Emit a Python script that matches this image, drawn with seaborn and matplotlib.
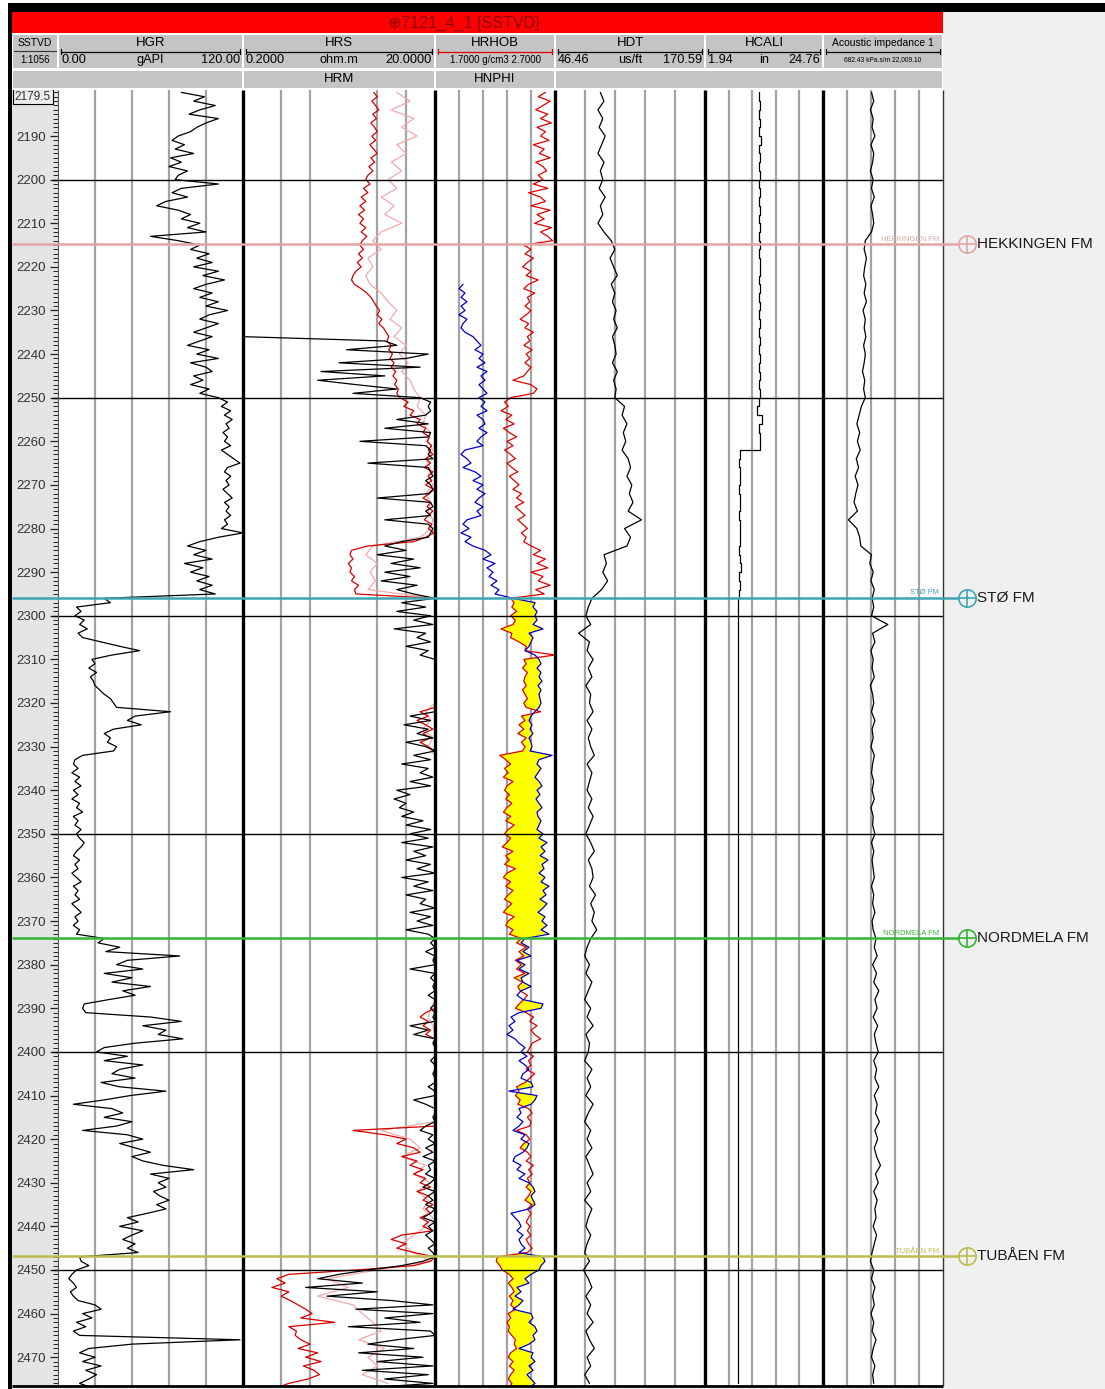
import numpy as np
import pandas as pd
import matplotlib
matplotlib.use("Agg")
import matplotlib.pyplot as plt
import seaborn as sns
from matplotlib.patches import Rectangle
from matplotlib.ticker import FixedLocator

sns.set_theme(style="white")
plt.rcParams["font.family"] = ["Liberation Sans", "DejaVu Sans"]

# ------------------------------------------------------------------ data
DEPTH_1M = np.arange(2180, 2478)          # 1 m samples (SSTVD)
DEPTH_2M = np.arange(2180, 2478, 2)       # 2 m samples
HRS_DEPTH = np.arange(2236, 2478)
NPHI_DEPTH = np.arange(2224, 2478)

HGR = [
    80, 95, 88, 102, 92, 85, 104, 96, 90, 86,          # 2180
    78, 74, 82, 76, 88, 73, 80, 72, 84, 78,            # 2190
    76, 104, 80, 74, 84, 70, 64, 78, 86, 80,           # 2200
    92, 84, 96, 60, 78, 92, 86, 98, 90, 100,           # 2210
    88, 104, 94, 108, 96, 88, 100, 92, 104, 96,        # 2220
    110, 98, 92, 104, 96, 88, 100, 92, 84, 98,         # 2230
    90, 104, 86, 96, 100, 88, 94, 86, 98, 92,          # 2240
    104, 110, 106, 112, 108, 113, 109, 111, 107, 110,  # 2250
    108, 112, 106, 110, 114, 118, 110, 108, 112, 109,  # 2260
    111, 107, 110, 113, 108, 111, 109, 112, 108, 110,  # 2270
    106, 120, 104, 92, 84, 96, 88, 100, 82, 94,        # 2280
    86, 98, 90, 100, 92, 102, 30, 34, 12, 15,          # 2290
    11, 17, 14, 19, 13, 16, 28, 40, 53, 35,            # 2300
    22, 24, 20, 25, 21, 23, 24, 27, 30, 34,            # 2310
    36, 38, 73, 50, 45, 54, 36, 30, 34, 32,            # 2320
    38, 36, 16, 11, 10, 13, 9, 14, 11, 15,             # 2330
    10, 13, 9, 14, 12, 16, 10, 13, 11, 15,             # 2340
    12, 14, 17, 15, 12, 10, 14, 11, 13, 9,             # 2350
    12, 15, 10, 13, 11, 14, 9, 12, 15, 11,             # 2360
    13, 10, 14, 12, 30, 26, 40, 31, 79, 45,            # 2370
    38, 55, 30, 48, 35, 60, 42, 50, 33, 17,            # 2380
    16, 18, 60, 80, 55, 70, 65, 81, 50, 30,            # 2390
    25, 45, 30, 55, 40, 35, 50, 28, 40, 70,            # 2400
    47, 30, 10, 35, 42, 30, 48, 38, 16, 45,            # 2410
    55, 40, 50, 60, 48, 55, 68, 88, 60, 72,            # 2420
    65, 70, 62, 66, 72, 64, 70, 58, 45, 52,            # 2430
    40, 55, 48, 42, 50, 45, 52, 14, 15, 20,            # 2440
    12, 9, 7, 10, 12, 8, 10, 13, 24, 28,               # 2450
    16, 22, 12, 18, 10, 14, 118, 48, 20, 14,           # 2460
    24, 16, 28, 18, 25, 20, 14, 22,                    # 2470
]

HRM = [
    4.6, 5.0, 4.4, 4.8, 5.2, 4.5, 4.9, 4.3, 4.7, 5.0,       # 2180
    4.4, 4.8, 4.2, 4.6, 5.0, 4.3, 4.7, 4.1, 4.5, 4.0,       # 2190
    3.8, 4.2, 3.6, 4.0, 3.4, 3.8, 3.3, 3.7, 3.2, 3.6,       # 2200
    3.3, 3.8, 3.4, 3.9, 3.5, 3.3, 3.6, 3.2, 3.5, 3.1,       # 2210
    3.4, 3.0, 2.8, 2.7, 2.9, 3.4, 3.9, 4.3, 4.6, 4.9,       # 2220
    5.3, 5.0, 5.6, 5.2, 5.8, 6.2, 6.6, 6.3, 7.0, 6.6,       # 2230
    7.2, 6.8, 7.5, 7.0, 7.8, 7.3, 8.0, 7.6, 8.3, 8.0,       # 2240
    8.6, 10.5, 9.5, 12.0, 11.0, 14.0, 13.0, 16.0, 15.0, 17.5,  # 2250
    16.5, 18.5, 17.0, 19.0, 16.0, 18.0, 15.5, 19.0, 17.0, 18.5,  # 2260
    16.0, 19.5, 17.5, 15.0, 18.0, 16.5, 19.0, 17.0, 15.5, 18.5,  # 2270
    17.0, 19.5, 16.0, 12.0, 4.0, 2.7, 2.6, 2.8, 2.5, 2.7,   # 2280
    2.6, 2.9, 2.7, 3.2, 2.9, 3.0, 20, 20, 20, 20,           # 2290
    20, 20, 20, 20, 20, 20, 20, 20, 20, 20,                 # 2300
    20, 20, 20, 20, 20, 20, 20, 20, 20, 20,                 # 2310
    20, 20, 14, 17, 13, 16, 19, 15, 18, 14,                 # 2320
    17, 20, 20, 20, 20, 20, 20, 20, 20, 20,                 # 2330
    20, 20, 20, 20, 20, 20, 20, 20, 20, 20,                 # 2340
    20, 20, 20, 20, 20, 20, 20, 20, 20, 20,                 # 2350
    20, 20, 20, 20, 20, 20, 20, 20, 20, 20,                 # 2360
    20, 20, 20, 20, 20, 20, 20, 20, 20, 20,                 # 2370
    20, 20, 20, 20, 20, 20, 20, 20, 20, 20,                 # 2380
    20, 16, 14, 17, 15, 18, 16, 20, 20, 20,                 # 2390
    20, 20, 20, 20, 20, 20, 20, 20, 20, 20,                 # 2400
    20, 20, 20, 20, 20, 20, 20, 20, 2.8, 6.0,               # 2410
    10, 8, 12, 14, 9, 13, 11, 15, 12, 16,                   # 2420
    14, 18, 13, 17, 15, 19, 16, 18, 14, 17,                 # 2430
    15, 19, 9, 7, 10, 8, 12, 20, 18, 12,                    # 2440
    3.0, 0.6, 0.45, 0.55, 0.4, 0.6, 0.5, 0.62, 0.75, 0.9,   # 2450
    1.05, 0.8, 1.8, 0.6, 0.72, 0.7, 0.8, 1.0, 0.75, 1.2,    # 2460
    0.9, 1.3, 0.85, 1.1, 1.25, 0.95, 0.6, 0.45,             # 2470
]

HRD_PINK = [
    8, 11, 7, 12, 9, 13, 8, 10, 7, 9,                       # 2180-2198
    6.5, 8, 5.5, 7.5, 6, 9, 5.5, 4.5, 5.5, 4.0,             # 2200-2218
    4.5, 3.8, 4.2, 5.5, 6.5, 8.0, 6.8, 9.0, 7.5, 10.0,      # 2220-2238
    8.5, 10.5, 9, 11, 12, 14, 13, 16, 15, 18,               # 2240-2258
    17, 19, 16, 18, 17, 19, 16, 18, 17, 19,                 # 2260-2278
    18, 14, 4.5, 3.8, 5.0, 4.2, 4.8, 4.0, 20, 20,           # 2280-2298
    20, 20, 20, 20, 20, 20, 20, 20, 20, 20,                 # 2300-2318
    20, 16, 18, 15, 19, 17, 20, 20, 20, 20,                 # 2320-2338
    20, 20, 20, 20, 20, 20, 20, 20, 20, 20,                 # 2340-2358
    20, 20, 20, 20, 20, 20, 20, 20, 20, 20,                 # 2360-2378
    20, 20, 20, 20, 20, 18, 17, 19, 20, 20,                 # 2380-2398
    20, 20, 20, 20, 20, 20, 20, 20, 20, 5.5,                # 2400-2418
    11, 14, 9, 16, 12, 18, 13, 17, 15, 19,                  # 2420-2438
    16, 12, 9, 12, 18, 5, 1.5, 2.5, 1.2, 2.8,               # 2440-2458
    3.5, 4.5, 5.5, 3.2, 6.0, 4.0, 5.0, 3.5, 6.5,            # 2460-2476
]

HRS = [
    0.2, 6, 8, 2.4,                                        # 2236
    17, 10, 2.0, 14, 1.3, 6, 1.2, 3.0, 8, 2.8,             # 2240
    14, 18, 17, 18, 16, 8, 17, 6, 18, 17,                  # 2250
    3.3, 16, 18, 17, 19, 4.0, 17, 18, 19, 16,              # 2260
    18, 19, 17, 5.0, 18, 19, 16, 18, 6.0, 17,              # 2270
    19, 18, 17, 9, 6, 10, 5, 12, 7, 14,                    # 2280
    6, 11, 5.5, 13, 8, 12, 20, 9, 16, 8,                   # 2290
    18, 12, 19, 7.5, 16, 13, 18, 10, 17, 14,               # 2300
    20, 20, 20, 20, 20, 20, 20, 20, 20, 20,                # 2310
    20, 20, 20, 11, 18, 9.5, 17, 13, 19, 10,               # 2320
    16, 20, 12, 18, 9, 17, 14, 19, 11, 18,                 # 2330
    8, 11, 7.5, 10, 8.5, 12, 9, 15, 10, 18,                # 2340
    11, 17, 9, 19, 12, 16, 10, 18, 13, 20,                 # 2350
    9, 17, 12, 19, 10, 16, 14, 20, 11, 18,                 # 2360
    13, 19, 10, 17, 20, 18, 20, 16, 20, 19,                # 2370
    20, 11, 20, 18, 20, 19, 20, 17, 20, 20,                # 2380
    18, 20, 19, 20, 11, 17, 12, 20, 19, 20,                # 2390
    20, 20, 18, 20, 20, 19, 20, 20, 17, 20,                # 2400
    20, 12, 16, 20, 20, 19, 20, 16, 14, 19,                # 2410
    17, 20, 16, 19, 15, 20, 17, 18, 16, 20,                # 2420
    18, 15, 20, 17, 19, 16, 20, 18, 15, 20,                # 2430
    17, 19, 16, 18, 20, 17, 19, 20, 15, 9,                 # 2440
    4, 2.0, 1.2, 3.5, 0.9, 5, 1.5, 7, 19, 3,               # 2450
    19, 6, 14, 2.5, 18, 20, 8, 4, 12, 3.2,                 # 2460
    15, 5, 19, 3.5, 17, 6, 19, 4,                          # 2470
]

HRHOB = [
    2.62, 2.56, 2.66, 2.60, 2.54, 2.64, 2.58, 2.67, 2.55, 2.62,   # 2180
    2.58, 2.65, 2.52, 2.61, 2.57, 2.66, 2.54, 2.60, 2.63, 2.56,   # 2190
    2.60, 2.52, 2.64, 2.48, 2.58, 2.62, 2.50, 2.66, 2.55, 2.61,   # 2200
    2.53, 2.67, 2.58, 2.64, 2.68, 2.44, 2.50, 2.45, 2.52, 2.47,   # 2210
    2.43, 2.50, 2.46, 2.56, 2.48, 2.44, 2.53, 2.47, 2.49, 2.45,   # 2220
    2.50, 2.46, 2.41, 2.48, 2.45, 2.52, 2.47, 2.49, 2.44, 2.51,   # 2230
    2.46, 2.49, 2.45, 2.50, 2.47, 2.44, 2.35, 2.50, 2.55, 2.52,   # 2240
    2.33, 2.28, 2.31, 2.25, 2.34, 2.29, 2.36, 2.27, 2.32, 2.38,   # 2250
    2.30, 2.35, 2.28, 2.33, 2.37, 2.30, 2.34, 2.39, 2.32, 2.36,   # 2260
    2.40, 2.35, 2.42, 2.38, 2.44, 2.37, 2.41, 2.45, 2.39, 2.43,   # 2270
    2.47, 2.42, 2.46, 2.44, 2.50, 2.58, 2.52, 2.62, 2.55, 2.64,   # 2280
    2.50, 2.60, 2.56, 2.66, 2.54, 2.61, 2.33, 2.36, 2.34, 2.38,   # 2290
    2.33, 2.37, 2.35, 2.25, 2.34, 2.33, 2.40, 2.46, 2.45, 2.70,   # 2300
    2.44, 2.46, 2.43, 2.47, 2.45, 2.44, 2.46, 2.43, 2.45, 2.47,   # 2310
    2.44, 2.46, 2.58, 2.42, 2.45, 2.40, 2.44, 2.39, 2.46, 2.42,   # 2320
    2.45, 2.43, 2.24, 2.29, 2.33, 2.28, 2.31, 2.27, 2.35, 2.30,   # 2330
    2.28, 2.32, 2.29, 2.34, 2.30, 2.27, 2.33, 2.29, 2.36, 2.31,   # 2340
    2.28, 2.33, 2.30, 2.26, 2.35, 2.29, 2.32, 2.28, 2.37, 2.30,   # 2350
    2.27, 2.33, 2.29, 2.35, 2.31, 2.28, 2.34, 2.30, 2.27, 2.36,   # 2360
    2.31, 2.29, 2.35, 2.32, 2.42, 2.38, 2.46, 2.40, 2.44, 2.37,   # 2370
    2.42, 2.38, 2.45, 2.36, 2.43, 2.39, 2.41, 2.47, 2.44, 2.40,   # 2380
    2.37, 2.46, 2.52, 2.49, 2.55, 2.50, 2.53, 2.58, 2.51, 2.49,   # 2390
    2.47, 2.52, 2.48, 2.50, 2.46, 2.53, 2.49, 2.45, 2.38, 2.40,   # 2400
    2.37, 2.41, 2.39, 2.48, 2.51, 2.47, 2.50, 2.49, 2.38, 2.46,   # 2410
    2.49, 2.44, 2.41, 2.47, 2.50, 2.46, 2.52, 2.48, 2.51, 2.47,   # 2420
    2.49, 2.46, 2.50, 2.48, 2.45, 2.51, 2.47, 2.50, 2.48, 2.46,   # 2430
    2.49, 2.47, 2.50, 2.46, 2.48, 2.51, 2.47, 2.22, 2.21, 2.24,   # 2440
    2.26, 2.32, 2.35, 2.31, 2.34, 2.36, 2.32, 2.35, 2.33, 2.37,   # 2450
    2.31, 2.33, 2.30, 2.32, 2.31, 2.34, 2.37, 2.36, 2.38, 2.33,   # 2460
    2.31, 2.35, 2.32, 2.36, 2.33, 2.31, 2.34, 2.32,               # 2470
]

HNPHI = [
    0.31, 0.33, 0.30, 0.32, 0.29, 0.32,                                   # 2224
    0.30, 0.33, 0.29, 0.31, 0.32, 0.30, 0.26, 0.24, 0.22, 0.25,           # 2230
    0.21, 0.23, 0.20, 0.24, 0.19, 0.22, 0.20, 0.23, 0.21, 0.19,           # 2240
    0.23, 0.20, 0.22, 0.19, 0.24, 0.21, 0.20, 0.23, 0.19, 0.22,           # 2250
    0.24, 0.21, 0.30, 0.32, 0.29, 0.27, 0.31, 0.25, 0.22, 0.26,           # 2260
    0.21, 0.24, 0.20, 0.23, 0.25, 0.21, 0.24, 0.22, 0.29, 0.31,           # 2270
    0.28, 0.32, 0.27, 0.30, 0.26, 0.20, 0.17, 0.21, 0.15, 0.19,           # 2280
    0.16, 0.18, 0.14, 0.17, 0.13, 0.15, 0.06, -0.05, -0.04, -0.06,        # 2290
    -0.05, -0.06, -0.04, -0.09, -0.02, -0.04, -0.03, -0.02, 0.00, -0.05,  # 2300
    -0.07, -0.08, -0.06, -0.08, -0.07, -0.085, -0.065, -0.08, -0.07, -0.075,  # 2310
    -0.08, -0.07, -0.05, -0.03, -0.02, -0.035, -0.025, -0.04, -0.02, -0.03,   # 2320
    -0.035, -0.025, -0.135, -0.07, -0.06, -0.08, -0.065, -0.05, -0.07, -0.085,  # 2330
    -0.06, -0.075, -0.055, -0.07, -0.085, -0.06, -0.065, -0.08, -0.07, -0.06,  # 2340
    -0.09, -0.07, -0.11, -0.08, -0.10, -0.075, -0.115, -0.085, -0.095, -0.07,  # 2350
    -0.10, -0.08, -0.12, -0.09, -0.105, -0.075, -0.11, -0.09, -0.065, -0.10,   # 2360
    -0.085, -0.11, -0.08, -0.12, 0.00, 0.02, -0.02, 0.01, -0.03, 0.04,         # 2370
    0.00, 0.03, -0.02, 0.02, 0.01, -0.03, 0.02, 0.04, 0.01, -0.09,             # 2380
    -0.08, 0.03, 0.07, 0.05, 0.08, 0.06, 0.09, 0.05, 0.03, 0.00,               # 2390
    0.02, -0.01, 0.03, 0.00, -0.02, 0.01, 0.02, -0.03, -0.04, 0.08,            # 2400
    -0.06, -0.05, -0.03, 0.03, 0.02, 0.04, 0.01, 0.03, 0.06, 0.00,             # 2410
    0.02, -0.02, -0.01, 0.01, 0.05, 0.06, 0.02, 0.04, 0.00, 0.03,              # 2420
    -0.02, -0.04, -0.05, -0.03, -0.04, -0.05, -0.02, 0.07, 0.05, 0.03,         # 2430
    0.02, 0.04, 0.01, 0.03, 0.02, 0.00, 0.03, -0.09, -0.10, -0.08,             # 2440
    -0.07, -0.03, 0.00, -0.02, 0.04, 0.02, 0.05, 0.01, 0.03, 0.06,             # 2450
    -0.03, -0.04, -0.02, -0.05, -0.06, -0.04, -0.05, -0.02, 0.03, -0.04,       # 2460
    -0.03, -0.05, -0.02, -0.04, -0.01, -0.03, -0.05, -0.02,                    # 2470
]

HDT = [
    84, 87, 82, 86, 83, 88, 85, 82, 87, 84,          # 2180-2198
    86, 83, 88, 84, 86, 82, 87, 93, 96, 92,          # 2200-2218
    95, 98, 93, 96, 94, 97, 95, 98, 94, 96,          # 2220-2238
    97, 94, 98, 95, 97, 96, 104, 102, 106, 103,      # 2240-2258
    105, 102, 107, 109, 106, 110, 108, 111, 107, 118,  # 2260-2278
    104, 109, 106, 87, 89, 86, 90, 85, 77, 74,       # 2280-2298
    72, 76, 66, 75, 73, 78, 74, 77, 72, 76,          # 2300-2318
    75, 78, 73, 77, 74, 76, 79, 73, 77, 75,          # 2320-2338
    73, 77, 74, 78, 75, 72, 76, 79, 74, 77,          # 2340-2358
    78, 75, 80, 76, 79, 77, 81, 76, 73, 71,          # 2360-2378
    75, 72, 77, 74, 71, 76, 73, 78, 72, 75,          # 2380-2398
    74, 71, 77, 73, 76, 72, 78, 74, 71, 76,          # 2400-2418
    73, 77, 72, 75, 78, 73, 76, 71, 77, 74,          # 2420-2438
    72, 76, 73, 71, 75, 70, 74, 77, 72, 76,          # 2440-2458
    73, 78, 72, 75, 79, 73, 76, 71, 75,              # 2460-2476
]

HCALI = [
    12.4, 12.6, 12.3, 12.5, 12.4, 12.7, 12.3, 12.5, 12.4, 12.6,   # 2180-2198
    12.4, 12.6, 12.3, 12.5, 12.4, 12.6, 12.3, 12.5, 12.4, 12.6,   # 2200-2218
    12.5, 12.3, 12.6, 12.4, 12.5, 12.3, 12.6, 12.4, 12.5, 12.3,   # 2220-2238
    12.5, 12.4, 12.6, 12.3, 12.5, 12.4, 12.0, 12.9, 12.4, 12.5,   # 2240-2258
    12.6, 8.7, 8.6, 8.8, 8.7, 8.6, 8.8, 8.7, 8.6, 8.7,            # 2260-2278
    8.7, 8.8, 8.6, 8.7, 8.9, 8.5, 8.7, 8.6, 8.4, 8.35,            # 2280-2298
    8.35, 8.33, 8.35, 8.34, 8.36, 8.35, 8.33, 8.35, 8.34, 8.36,   # 2300-2318
    8.35, 8.34, 8.36, 8.35, 8.33, 8.35, 8.34, 8.36, 8.35, 8.34,   # 2320-2338
    8.35, 8.36, 8.34, 8.35, 8.33, 8.35, 8.36, 8.34, 8.35, 8.34,   # 2340-2358
    8.36, 8.35, 8.34, 8.35, 8.33, 8.36, 8.35, 8.34, 8.35, 8.36,   # 2360-2378
    8.34, 8.35, 8.33, 8.35, 8.36, 8.34, 8.35, 8.36, 8.34, 8.35,   # 2380-2398
    8.33, 8.35, 8.36, 8.34, 8.35, 8.34, 8.36, 8.35, 8.33, 8.35,   # 2400-2418
    8.34, 8.36, 8.35, 8.34, 8.35, 8.33, 8.36, 8.35, 8.34, 8.35,   # 2420-2438
    8.36, 8.34, 8.35, 8.33, 8.35, 8.34, 8.25, 8.24, 8.26, 8.25,   # 2440-2458
    8.24, 8.26, 8.25, 8.24, 8.26, 8.25, 8.24, 8.25, 8.26,         # 2460-2476
]

ACOUSTIC_IMPEDANCE = [
    9300, 9700, 9100, 9600, 9400, 9900, 9200, 9700, 9500, 9100,      # 2180-2198
    9600, 9300, 9800, 9200, 9500, 9700, 9300, 8200, 8000, 8400,      # 2200-2218
    8100, 7900, 8300, 8000, 8400, 7800, 8200, 8000, 8300, 7900,      # 2220-2238
    8200, 8000, 7700, 8100, 7900, 8200, 7500, 7100, 6700, 7200,      # 2240-2258
    6800, 7300, 6600, 7000, 6400, 6900, 6500, 6200, 6800, 5200,      # 2260-2278
    6700, 7200, 7400, 9300, 9000, 9600, 9200, 9800, 9400, 9700,      # 2280-2298
    9300, 12200, 9500, 9900, 9200, 9600, 9400, 9800, 9100, 9500,     # 2300-2318
    9700, 9300, 9900, 9400, 9600, 9200, 9800, 9500, 9300, 9700,      # 2320-2338
    9400, 9800, 9200, 9600, 9500, 9900, 9300, 9700, 9400, 9600,      # 2340-2358
    9800, 9300, 9700, 9500, 9900, 9400, 9600, 10100, 9800, 10300,    # 2360-2378
    9500, 10200, 9700, 10600, 9900, 10300, 9600, 10400, 9800, 10100, # 2380-2398
    10500, 9700, 10200, 9900, 10600, 9800, 10300, 10000, 10700, 9900,  # 2400-2418
    10400, 9800, 10200, 10900, 10000, 10500, 9700, 10300, 9900, 10100,  # 2420-2438
    9600, 10200, 9800, 9400, 9100, 9700, 9300, 9900, 9500, 9800,     # 2440-2458
    9200, 9700, 9400, 10100, 9600, 9300, 9900, 9500, 9700,           # 2460-2476
]

FORMATION_NAMES = ["HEKKINGEN FM", "STØ FM", "NORDMELA FM", "TUBÅEN FM"]
FORMATION_DEPTHS = [2214.8, 2295.9, 2373.9, 2446.9]
FORMATION_COLORS = ["#e2a5a5", "#3ea5b5", "#35b535", "#bcbc50"]

DEPTH_MAJOR_LINES = [2200, 2250, 2300, 2350, 2400, 2450]
DEPTH_LABELS = [2190, 2200, 2210, 2220, 2230, 2240, 2250, 2260, 2270, 2280,
                2290, 2300, 2310, 2320, 2330, 2340, 2350, 2360, 2370, 2380,
                2390, 2400, 2410, 2420, 2430, 2440, 2450, 2460, 2470]

TITLE = "\u22957121_4_1 [SSTVD]"
TRACK_NAMES = ["SSTVD", "HGR", "HRS", "HRHOB", "HDT", "HCALI", "Acoustic impedance 1"]
SCALE_LEFT = ["", "0.00", "0.2000", "", "46.46", "1.94", ""]
SCALE_UNIT = ["1:1056", "gAPI", "ohm.m", "1.7000 g/cm3 2.7000", "us/ft", "in", "682.43 kPa.s/m 22,009.10"]
SCALE_RIGHT = ["", "120.00", "20.0000", "", "170.59", "24.76", ""]
SECOND_CURVES = ["", "HRM", "HNPHI", ""]

# ------------------------------------------------------------------ layout
W, H = 1105, 1389
TOP, BOTTOM = 2179.45, 2476.6
Y0, Y1 = 90, 1386
EDGES = [12, 58, 243, 435, 555, 705, 823, 943]

fig = plt.figure(figsize=(W / 100, H / 100), dpi=100, facecolor="#f0f0f0")


def rect(x0, y0, x1, y1):
    return [x0 / W, 1 - y1 / H, (x1 - x0) / W, (y1 - y0) / H]


def hide_ticks(ax):
    ax.tick_params(which="both", left=False, bottom=False, top=False, right=False,
                   labelleft=False, labelbottom=False, labeltop=False, labelright=False)


def make_track(x0, x1, xlim, grid, log=False, face="white"):
    ax = fig.add_axes(rect(x0, Y0, x1, Y1))
    ax.set_facecolor(face)
    if log:
        ax.set_xscale("log")
    ax.set_xlim(*xlim)
    ax.set_ylim(BOTTOM, TOP)
    for g in grid:
        ax.axvline(g, color="#a3a3a3", lw=1.6, zorder=0.5)
    for s in ax.spines.values():
        s.set_visible(False)
    hide_ticks(ax)
    ax.grid(False)
    return ax


def draw_curve(ax, values, depths, color, lw=0.9, z=3, xlim=None, steps=False):
    sns.lineplot(x=np.asarray(values, float), y=np.asarray(depths, float), ax=ax,
                 orient="y", sort=True, estimator=None, color=color, linewidth=lw,
                 drawstyle="steps-pre" if steps else "default", zorder=z)
    ax.set_xlabel("")
    ax.set_ylabel("")
    if xlim is not None:
        ax.set_xlim(*xlim)
    ax.set_ylim(BOTTOM, TOP)


# depth track background
dax = make_track(12, 58, (0, 1), [], face="#e4e4e4")
dax.text(0.06, TOP + 0.15, "2179.5", transform=dax.get_yaxis_transform(), ha="left", va="top",
         fontsize=8.5, color="#333333",
         bbox=dict(boxstyle="square,pad=0.15", fc="#ececec", ec="black", lw=0.8))

# GR
gr_lim = (0, 120)
gr = make_track(58, 243, gr_lim, [24, 48, 72, 96])
draw_curve(gr, HGR, DEPTH_1M, "black", xlim=gr_lim)
gr.yaxis.set_major_locator(FixedLocator(DEPTH_LABELS))
gr.yaxis.set_minor_locator(FixedLocator(list(range(2180, 2477))))
gr.tick_params(axis="y", which="major", left=True, labelleft=True, direction="out",
               length=6, width=0.9, color="#222222", labelcolor="#333333", labelsize=9.5, pad=3)
gr.tick_params(axis="y", which="minor", left=True, direction="out", length=3.5, width=0.7,
               color="#222222")

# Resistivity
res_lim = (0.2, 20)
res = make_track(243, 435, res_lim, [0.5, 1, 5, 10], log=True)
draw_curve(res, HRD_PINK, DEPTH_2M, "#f2aaaa", xlim=res_lim)
draw_curve(res, HRM, DEPTH_1M, "#d40000", xlim=res_lim)
draw_curve(res, HRS, HRS_DEPTH, "black", xlim=res_lim)

# Density / neutron
den_lim = (1.7, 2.7)
den = make_track(435, 555, den_lim, [1.9, 2.1, 2.3, 2.5])
rho_sub = np.asarray(HRHOB, float)[len(DEPTH_1M) - len(NPHI_DEPTH):]
rho_eq = den_lim[0] + (0.45 - np.asarray(HNPHI, float)) / 0.6 * (den_lim[1] - den_lim[0])
den.fill_betweenx(NPHI_DEPTH, rho_sub, rho_eq, where=rho_eq > rho_sub, interpolate=True,
                  color="#ffff00", lw=0, zorder=1)
draw_curve(den, HRHOB, DEPTH_1M, "#e00000", xlim=den_lim)
nax = den.twiny()
nax.patch.set_visible(False)
for s in nax.spines.values():
    s.set_visible(False)
draw_curve(nax, HNPHI, NPHI_DEPTH, "#0000c8", xlim=(0.45, -0.15))
hide_ticks(nax)
hide_ticks(den)
nax.grid(False)

# DT
dt_lim = (46.46, 170.59)
dt = make_track(555, 705, dt_lim, [46.46 + k * (170.59 - 46.46) / 5 for k in range(1, 5)])
draw_curve(dt, HDT, DEPTH_2M, "black", xlim=dt_lim)

# Caliper
cal_lim = (1.94, 24.76)
cal = make_track(705, 823, cal_lim, [1.94 + k * (24.76 - 1.94) / 5 for k in range(1, 5)])
draw_curve(cal, HCALI, DEPTH_2M, "black", xlim=cal_lim, steps=True)

# Acoustic impedance
ai_lim = (682.43, 22009.10)
ai = make_track(823, 943, ai_lim, [682.43 + k * (22009.10 - 682.43) / 5 for k in range(1, 5)])
draw_curve(ai, ACOUSTIC_IMPEDANCE, DEPTH_2M, "black", xlim=ai_lim)

# overlay: borders, depth lines, formation tops
ov = fig.add_axes(rect(12, Y0, W, Y1))
ov.set_xlim(12, W)
ov.set_ylim(BOTTOM, TOP)
ov.patch.set_visible(False)
ov.axis("off")
ov.set_zorder(10)
ov.hlines(DEPTH_MAJOR_LINES, 52, 943, color="black", lw=1.0)
ov.vlines([58], BOTTOM, TOP, color="#555555", lw=0.8)
ov.vlines([243, 435, 555, 705, 823], BOTTOM, TOP, color="black", lw=2.4)
ov.vlines([943], BOTTOM, TOP, color="#333333", lw=1.0)
ov.hlines([BOTTOM], 12, 943, color="black", lw=2.0, clip_on=False)
for name, d, c in zip(FORMATION_NAMES, FORMATION_DEPTHS, FORMATION_COLORS):
    ov.hlines(d, 12, 959, color=c, lw=1.8)
    ov.plot([966.5], [d], marker="o", ms=12.5, mfc="none", mec=c, mew=1.2, clip_on=False)
    ov.plot([966.5], [d], marker="+", ms=12.5, mec=c, mew=1.2, clip_on=False)
    ov.text(977, d, name, ha="left", va="center", fontsize=11, color="#1a1a1a")
    ov.text(939, d - 0.35, name, ha="right", va="bottom", fontsize=5.5, color=c)

# ------------------------------------------------------------------ header
hd = fig.add_axes(rect(0, 0, W, Y0))
hd.set_xlim(0, W)
hd.set_ylim(Y0, 0)
hd.axis("off")
hd.add_patch(Rectangle((12, 33), 931, 57, fc="white", ec="none"))
hd.add_patch(Rectangle((12, 12), 931, 21, fc="#ff0000", ec="none"))
hd.text(464, 23, TITLE, ha="center", va="center", fontsize=11.5, color="#8a0000")

for i in range(7):
    x0, x1 = EDGES[i], EDGES[i + 1]
    cx = (x0 + x1) / 2
    hd.add_patch(Rectangle((x0 + 1, 35), x1 - x0 - 2, 33, fc="#c4c4c4", ec="none"))
    small = i in (0, 6)
    hd.text(cx, 43, TRACK_NAMES[i], ha="center", va="center",
            fontsize=7.5 if small else 9.5, color="black")
    if i == 0:
        hd.plot([x0 + 2, x1 - 2], [51, 51], color="#333333", lw=0.8)
    else:
        bar_c = "#e00000" if i == 3 else "black"
        hd.plot([x0 + 3, x1 - 3], [51.5, 51.5], color=bar_c, lw=0.9)
        hd.plot([x0 + 3, x0 + 3], [49, 54], color=bar_c, lw=0.9)
        hd.plot([x1 - 3, x1 - 3], [49, 54], color=bar_c, lw=0.9)
    ufs = 9.2
    if i in (0, 3):
        ufs = 7.0
    if i == 6:
        ufs = 4.8
    hd.text(cx, 60, SCALE_UNIT[i], ha="center", va="center", fontsize=ufs, color="black")
    if SCALE_LEFT[i]:
        hd.text(x0 + 3, 60, SCALE_LEFT[i], ha="left", va="center", fontsize=9.2, color="black")
    if SCALE_RIGHT[i]:
        hd.text(x1 - 3, 60, SCALE_RIGHT[i], ha="right", va="center", fontsize=9.2, color="black")

row3 = [(12, 243), (243, 435), (435, 555), (555, 943)]
for (x0, x1), nm in zip(row3, SECOND_CURVES):
    hd.add_patch(Rectangle((x0 + 1, 71), x1 - x0 - 2, 17, fc="#c4c4c4", ec="none"))
    if nm:
        hd.text((x0 + x1) / 2, 79.5, nm, ha="center", va="center", fontsize=9.5, color="black")

# frame: white margins, black top and left bars
fig.add_artist(Rectangle((0, 0), 8 / W, 1, transform=fig.transFigure, fc="white", ec="none", zorder=40))
fig.add_artist(Rectangle((0, 1 - 3 / H), 1, 3 / H, transform=fig.transFigure, fc="white", ec="none", zorder=40))
fig.add_artist(Rectangle((8 / W, 1 - 12 / H), 1 - 8 / W, 9 / H, transform=fig.transFigure,
                         fc="black", ec="none", zorder=41))
fig.add_artist(Rectangle((8 / W, 0), 4 / W, 1 - 3 / H, transform=fig.transFigure,
                         fc="black", ec="none", zorder=41))

fig.savefig("out.png", dpi=100, facecolor=fig.get_facecolor())
